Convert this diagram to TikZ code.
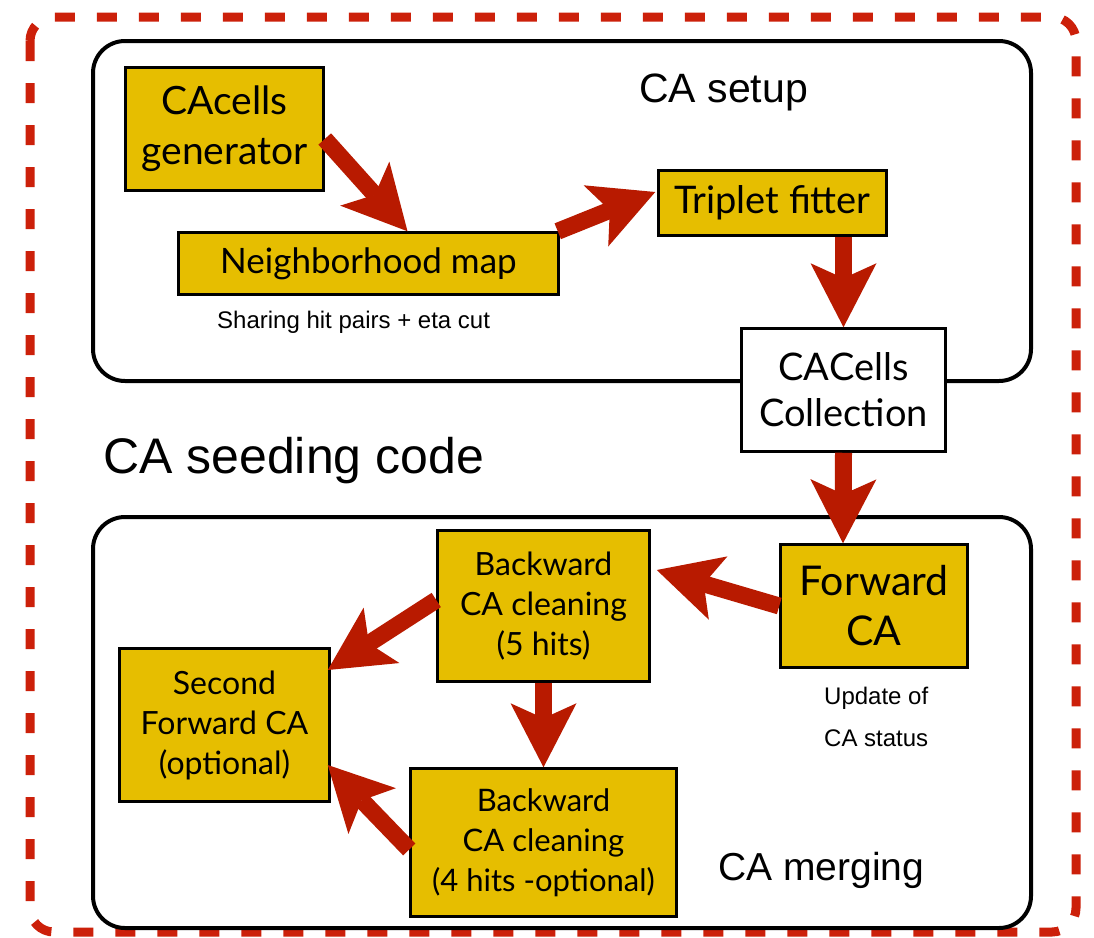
\documentclass[tikz,border=0pt]{standalone}
\usepackage{fontspec}
\setmainfont{Liberation Sans}
\newfontfamily\gill{Lato}
\usetikzlibrary{arrows.meta}
\definecolor{boxyellow}{RGB}{230,190,0}
\definecolor{arrowred}{RGB}{184,26,0}
\definecolor{dashred}{RGB}{204,32,10}
\begin{document}
\begin{tikzpicture}[x=1pt,y=-1pt,
  box/.style={draw=black, line width=2.5pt, fill=boxyellow, align=center, inner sep=0pt},
  whitebox/.style={box, fill=white},
  flow/.style={draw=arrowred, line width=17pt, -{Stealth[length=64pt,width=66pt,inset=15pt,line width=0pt]}},
  container/.style={draw=black, line width=4pt, rounded corners=32pt},
  outer/.style={draw=dashred, line width=9pt, dash pattern=on 20pt off 22pt, rounded corners=24pt},
  bigfont/.style={font={\gill\fontsize{39}{50}\selectfont}},
  midfont/.style={font={\gill\fontsize{35}{45}\selectfont}},
  largemid/.style={font={\gill\fontsize{38}{46}\selectfont}},
  smallfont/.style={font={\gill\fontsize{32}{40}\selectfont}},
  label/.style={anchor=base west, inner sep=0pt}
]
\useasboundingbox (0,0) rectangle (1094,937);
\fill[white] (0,0) rectangle (1094,937);

% frames
\draw[outer] (30,17) rectangle (1076,932);
\draw[container] (93,41) rectangle (1031,381);
\draw[container] (93,517) rectangle (1031,928);

% nodes
\node[box, bigfont, minimum width=198, minimum height=123] (gen) at (224.5,129) {CAcells\\generator};
\node[box, midfont, minimum width=380, minimum height=62] (nbr) at (368.5,263.5) {Neighborhood map};
\node[box, largemid, minimum width=228, minimum height=65] (trip) at (772.5,203) {Triplet fitter};
\node[whitebox, largemid, minimum width=204, minimum height=123] (coll) at (843.5,390) {CACells\\Collection};
\node[box, font={\gill\fontsize{41}{50}\selectfont}, minimum width=187, minimum height=123] (fwd) at (874,606) {Forward\\CA};
\node[box, smallfont, minimum width=212, minimum height=151] (bw5) at (543.5,606) {Backward\\CA cleaning\\(5 hits)};
\node[box, smallfont, minimum width=210, minimum height=153] (sec) at (224.5,725) {Second\\Forward CA\\(optional)};
\node[box, font={\gill\fontsize{31}{40}\selectfont}, minimum width=266, minimum height=148] (bw4) at (543.5,842.5) {Backward\\CA cleaning\\(4 hits -optional)};

% labels
\node[label, font=\fontsize{41}{41}\selectfont] (setup) at (639,102) {CA setup};
\node[label, font=\fontsize{24}{24}\selectfont] (share) at (217,328) {Sharing hit pairs + eta cut};
\node[label, font=\fontsize{50}{50}\selectfont] (seed) at (103,473) {CA seeding code};
\node[label, font=\fontsize{24}{24}\selectfont] (upd1) at (824,704) {Update of};
\node[label, font=\fontsize{24}{24}\selectfont] (upd2) at (824,746) {CA status};
\node[label, font=\fontsize{39}{39}\selectfont] (merge) at (718,880) {CA merging};

% arrows
\draw[flow] ([yshift=-10pt]gen.east) -- ([xshift=39pt]nbr.north);
\draw[flow] ([xshift=-2pt]nbr.north east) -- ([xshift=-2pt,yshift=11pt]trip.west);
\draw[flow] ([xshift=71pt]trip.south) -- (coll.north);
\draw[flow] (coll.south) -- ([xshift=-31pt]fwd.north);
\draw[flow] (fwd.west) -- ([xshift=6pt,yshift=36pt]bw5.east);
\draw[flow] ([yshift=6pt]bw5.west) -- ([xshift=-3pt,yshift=55pt]sec.east);
\draw[flow] (bw5.south) -- (bw4.north);
\draw[flow] ([yshift=-7pt]bw4.west) -- ([xshift=-3pt,yshift=-40pt]sec.east);
\end{tikzpicture}
\end{document}
